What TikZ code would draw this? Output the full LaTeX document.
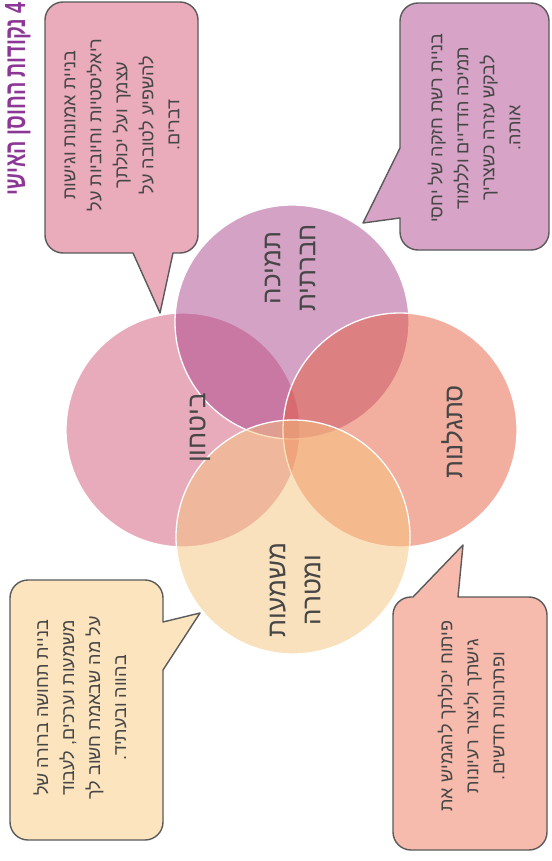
\documentclass[tikz,border=0pt]{standalone}
\usepackage{fontspec}
\newfontfamily\hebfont[Script=Hebrew]{Liberation Sans}
\TeXXeTstate=1
\newcommand{\hb}[1]{\beginR #1\endR}
\definecolor{cT}{RGB}{171,71,141}
\definecolor{cL}{RGB}{211,89,123}
\definecolor{cR}{RGB}{231,95,65}
\definecolor{cB}{RGB}{247,197,125}
\definecolor{bPink}{RGB}{234,171,187}
\definecolor{bPurple}{RGB}{215,163,198}
\definecolor{bYellow}{RGB}{252,228,190}
\definecolor{bSalmon}{RGB}{246,187,172}
\definecolor{balline}{RGB}{90,90,90}
\definecolor{txtgray}{RGB}{70,70,70}
\definecolor{titlepurple}{RGB}{140,55,150}
\begin{document}
\begin{tikzpicture}[x=1pt,y=1pt,
  circ/.style={draw=white, line width=1.3pt, fill opacity=0.5},
  bal/.style={draw=balline, line width=1.4pt, line join=round},
  btxt/.style={text=txtgray, font=\hebfont\fontsize{18}{26}\selectfont, align=center, rotate=90, inner sep=0pt},
  clab/.style={text=txtgray, font=\hebfont\fontsize{26}{35}\selectfont, align=center, rotate=90, inner sep=0pt}]
\useasboundingbox (0,0) rectangle (551,-861);
\clip (0,0) rectangle (551,-861);
\fill[white] (0,0) rectangle (551,-861);

% circles
\draw[circ, fill=cL] (183,-430) circle (117);
\draw[circ, fill=cT] (292,-322) circle (117);
\draw[circ, fill=cR] (400,-430) circle (117);
\draw[circ, fill=cB] (293,-537) circle (117);

% balloons
\draw[bal, fill=bPink] (133,-253) [rounded corners=18] -- (45,-253) -- (45,-2) -- (198,-2) -- (198,-253) [sharp corners] -- (173,-253) -- (160,-313) -- cycle;
\draw[bal, fill=bPurple] (400,-148) [rounded corners=18] -- (400,-3) -- (549,-3) -- (549,-250) -- (400,-250) [sharp corners] -- (400,-218) -- (363,-223) -- cycle;
\draw[bal, fill=bYellow] (163,-670) [rounded corners=18] -- (163,-840) -- (10,-840) -- (10,-580) -- (163,-580) [sharp corners] -- (163,-622) -- (200,-613) -- cycle;
\draw[bal, fill=bSalmon] (458,-597) [rounded corners=18] -- (547,-597) -- (547,-850) -- (393,-850) -- (393,-597) [sharp corners] -- (413,-597) -- (463,-545) -- cycle;

% balloon texts
\node[btxt] (tpink) at (122,-125) {\hb{בניית אמונות וגישות}\\\hb{ריאליסטיות וחיוביות על}\\\hb{עצמך ועל יכולתך}\\\hb{להשפיע לטובה על}\\\hb{דברים.}};
\node[btxt] (tpurple) at (474,-128) {\hb{בניית רשת חזקה של יחסי}\\\hb{תמיכה הדדיים וללמוד}\\\hb{לבקש עזרה כשצריך}\\\hb{אותה.}};
\node[btxt] (tyellow) at (80,-708) {\hb{בניית תחושה ברורה של}\\\hb{משמעות וערכים, לעבוד}\\\hb{על מה שבאמת חשוב לך}\\\hb{בהווה ובעתיד.}};
\node[btxt] (tsalmon) at (471,-716) {\hb{פיתוח יכולתך להגמיש את}\\\hb{גישתך וליצור רעיונות}\\\hb{ופתרונות חדשים.}};

% circle labels
\node[clab] (ltop) at (290,-268) {\hb{תמיכה}\\\hb{חברתית}};
\node[clab] (lleft) at (200,-428) {\hb{ביטחון}};
\node[clab] (lright) at (452,-432) {\hb{סתגלנות}};
\node[clab] (lbottom) at (295,-590) {\hb{משמעות}\\\hb{ומטרה}};

% title
\node[text=titlepurple, font=\hebfont\bfseries\fontsize{29}{29}\selectfont, rotate=90, anchor=base east, inner sep=0pt] (title) at (25,-2) {\scalebox{0.68}[1]{\hb{4 נקודות החוסן האישי}}};
\end{tikzpicture}
\end{document}
